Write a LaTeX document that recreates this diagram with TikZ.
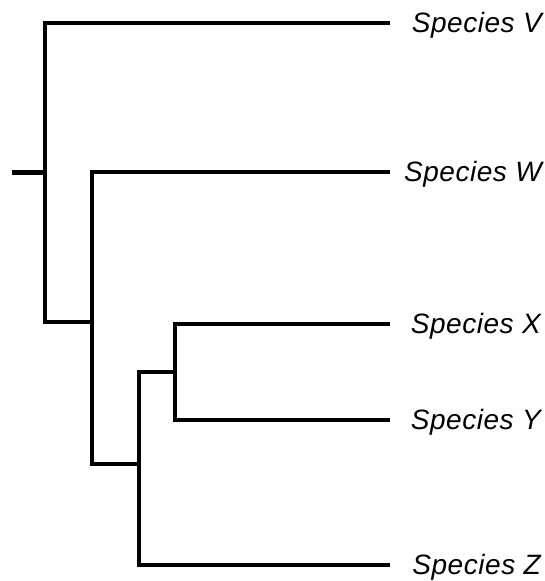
\documentclass[tikz,border=0pt]{standalone}
\usepackage{fontspec}
\setmainfont{Liberation Sans}
\begin{document}
\begin{tikzpicture}[x=1pt,y=-1pt,
  branch/.style={line width=4.5pt, line join=miter, line cap=butt},
  label/.style={anchor=base east, inner sep=0pt, font=\fontsize{28}{30}\selectfont\itshape\addfontfeatures{LetterSpace=2}}]
\useasboundingbox (0,0) rectangle (544,581);
\coordinate (root0) at (12,172.5);
\coordinate (r) at (45,172.5);
\coordinate (n1) at (92,322);
\coordinate (n2) at (139,464);
\coordinate (n3) at (175,372);
\coordinate (V) at (390,23);
\coordinate (W) at (390,172);
\coordinate (X) at (390,324);
\coordinate (Y) at (390,420);
\coordinate (Z) at (390,565);
\node[label] (tV) at (542,32.5) {Species V};
\node[label] (tW) at (542,181.5) {Species W};
\node[label] (tX) at (541,333.5) {Species X};
\node[label] (tY) at (541,429.5) {Species Y};
\node[label] (tZ) at (541,574.5) {Species Z};
\draw[branch] (root0) -- (r);
\draw[branch] (r) |- (V);
\draw[branch] (r) |- (n1);
\draw[branch] (n1) |- (W);
\draw[branch] (n1) |- (n2);
\draw[branch] (n2) |- (n3);
\draw[branch] (n2) |- (Z);
\draw[branch] (n3) |- (X);
\draw[branch] (n3) |- (Y);
\end{tikzpicture}
\end{document}
